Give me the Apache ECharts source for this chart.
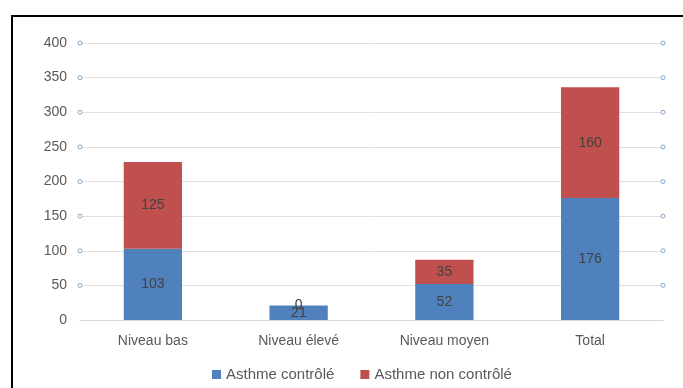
<!DOCTYPE html>
<html>
<head>
<meta charset="utf-8">
<script src="https://cdn.jsdelivr.net/npm/echarts@6/dist/echarts.min.js"></script>
<style>
  html, body { margin: 0; padding: 0; background: #fff; }
  #chart { width: 683px; height: 388px; }
</style>
</head>
<body>
<div id="chart"></div>
<script>
const categories = ['Niveau bas', 'Niveau élevé', 'Niveau moyen', 'Total'];
const controle = [103, 21, 52, 176];
const nonControle = [125, 0, 35, 160];
const yTicks = [0, 50, 100, 150, 200, 250, 300, 350, 400];

const chart = echarts.init(document.getElementById('chart'));
const font = 'Liberation Sans, Arial, sans-serif';
const labelStyle = {
  show: true,
  position: 'inside',
  color: '#404040',
  fontSize: 14,
  fontFamily: font
};

chart.setOption({
  animation: false,
  backgroundColor: '#fff',
  grid: { left: 80, right: 20, top: 43, bottom: 68 },
  legend: {
    left: 207,
    bottom: 1,
    itemWidth: 9,
    itemHeight: 9,
    itemGap: 26,
    icon: 'rect',
    textStyle: { color: '#595959', fontSize: 15, fontFamily: font },
    data: ['Asthme contrôlé', 'Asthme non contrôlé']
  },
  xAxis: {
    type: 'category',
    data: categories,
    axisTick: { show: false },
    axisLine: { lineStyle: { color: '#d9d9d9' } },
    axisLabel: { color: '#595959', fontSize: 14, fontFamily: font, margin: 14 }
  },
  yAxis: {
    type: 'value',
    min: 0,
    max: 400,
    interval: 50,
    axisLine: { show: false },
    axisTick: { show: false },
    splitLine: { lineStyle: { color: '#e0e0e0' } },
    axisLabel: { color: '#595959', fontSize: 14, fontFamily: font, margin: 13 }
  },
  series: [
    {
      name: 'Asthme contrôlé',
      type: 'bar',
      stack: 'a',
      barWidth: '40%',
      itemStyle: { color: '#4f81bd' },
      label: labelStyle,
      data: controle
    },
    {
      name: 'Asthme non contrôlé',
      type: 'bar',
      stack: 'a',
      barWidth: '40%',
      itemStyle: { color: '#c0504d' },
      label: labelStyle,
      data: nonControle
    }
  ]
});

// selection handles at both ends of the gridlines + outer frame
const handles = [];
yTicks.forEach(function (t) {
  if (t === 0) return;
  const y = chart.convertToPixel({ yAxisIndex: 0 }, t);
  [80, 663].forEach(function (x) {
    handles.push({
      type: 'circle',
      shape: { cx: x, cy: y, r: 2 },
      style: { fill: '#fff', stroke: '#7fa7cf', lineWidth: 1 }
    });
  });
});
handles.push({
  type: 'polyline',
  shape: { points: [[12, 388], [12, 16], [683, 16]] },
  style: { stroke: '#000', lineWidth: 2, fill: null }
});
chart.setOption({ graphic: handles });
</script>
</body>
</html>
